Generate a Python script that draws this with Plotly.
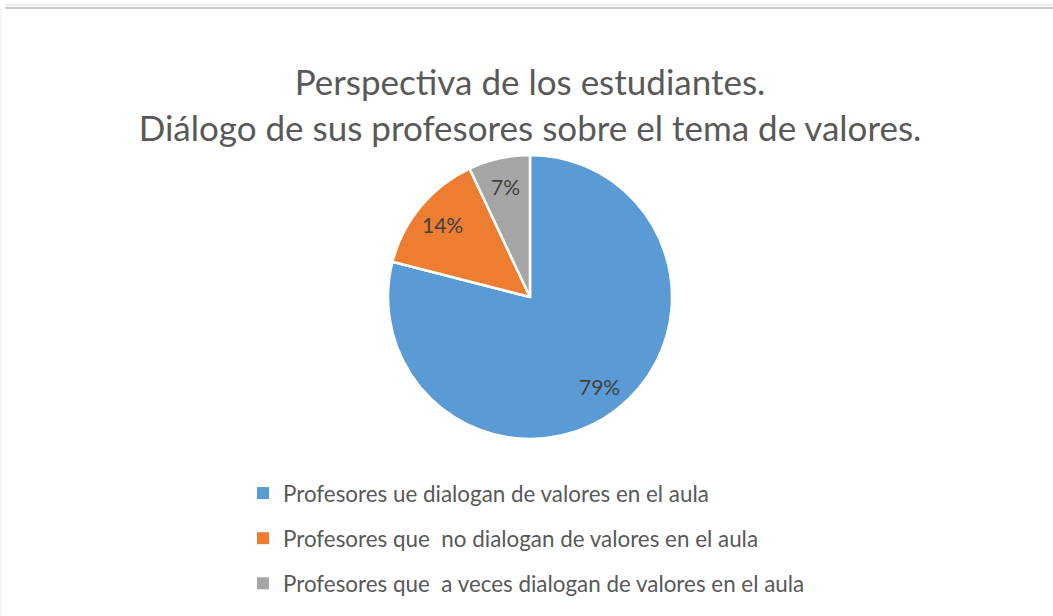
import math
import plotly.graph_objects as go

title_lines = ["Perspectiva de los estudiantes.",
               "Diálogo de sus profesores sobre el tema de valores."]
labels = ["Profesores ue dialogan de valores en el aula",
          "Profesores que  no dialogan de valores en el aula",
          "Profesores que  a veces dialogan de valores en el aula"]
values = [79, 14, 7]
colors = ["#5B9BD5", "#ED7D31", "#A5A5A5"]

W, H = 1053, 616
cx, cy, r = 530, 297, 142
FONT = "Lato"

fig = go.Figure()
fig.add_trace(go.Pie(
    labels=labels, values=values, sort=False, direction="clockwise", rotation=0,
    marker=dict(colors=colors, line=dict(color="white", width=2.5)),
    textinfo="none", showlegend=False, hoverinfo="label+percent",
    domain=dict(x=[(cx - r) / W, (cx + r) / W], y=[(H - cy - r) / H, (H - cy + r) / H]),
))

# data labels, placed at the mid-angle of each slice
total = sum(values)
cum = 0
annotations = []
for v in values:
    mid = (cum + v / 2) / total * 2 * math.pi
    cum += v
    px = cx + 0.80 * r * math.sin(mid)
    py = cy - 0.80 * r * math.cos(mid)
    annotations.append(dict(
        x=px / W, y=1 - py / H, xref="paper", yref="paper", showarrow=False,
        text=f"{round(v / total * 100)}%", xanchor="center", yanchor="middle",
        font=dict(family=FONT, size=21, color="#404040")))

for lab, col in zip(labels, colors):
    fig.add_trace(go.Scatter(
        x=[None], y=[None], mode="markers", name=lab, legendgroup=lab,
        marker=dict(symbol="square", size=9, color=col), showlegend=True,
    ))

fig.update_layout(
    width=W, height=H, margin=dict(l=0, r=0, t=0, b=0),
    paper_bgcolor="white", plot_bgcolor="white",
    title=dict(text="<br>".join(title_lines), x=cx / W, xanchor="center",
               y=1 - 95 / H, yanchor="top",
               font=dict(family=FONT, size=35, color="#595959")),
    xaxis=dict(visible=False), yaxis=dict(visible=False),
    legend=dict(x=243 / W, xanchor="left", y=1 - 472 / H, yanchor="top",
                orientation="v", tracegroupgap=13, itemsizing="constant",
                font=dict(family=FONT, size=22.4, color="#595959"),
                bgcolor="rgba(0,0,0,0)", itemwidth=30),
    annotations=annotations,
    shapes=[
        dict(type="line", xref="paper", yref="paper", x0=0.005, x1=1, y0=1 - 5 / H, y1=1 - 5 / H,
             line=dict(color="#EEEEEE", width=3)),
        dict(type="line", xref="paper", yref="paper", x0=0.005, x1=1, y0=1 - 8 / H, y1=1 - 8 / H,
             line=dict(color="#C9C9C9", width=2)),
        dict(type="line", xref="paper", yref="paper", x0=0.001, x1=0.001, y0=0, y1=1 - 8 / H,
             line=dict(color="#EAEAEA", width=1)),
    ],
)
fig.write_html("out.html", config={"displayModeBar": False},
               post_script="document.body.style.margin='0';document.body.style.padding='0';")
